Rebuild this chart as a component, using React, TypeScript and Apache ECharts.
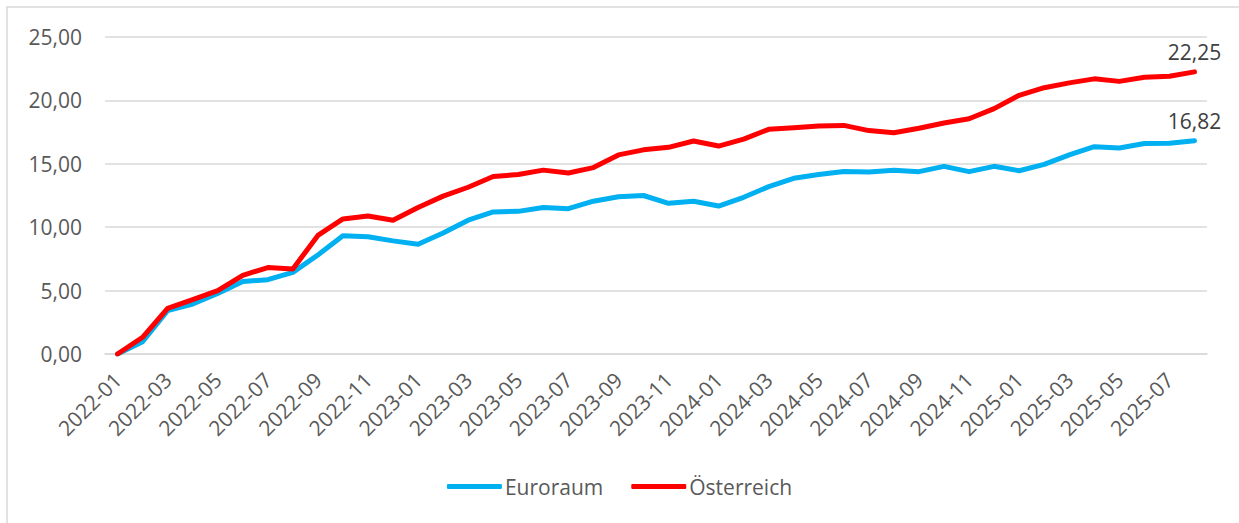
import React, { useEffect, useRef } from "react";
import * as echarts from "echarts";

const categories: string[] = [];
for (let y = 2022; y <= 2025; y++) {
  for (let m = 1; m <= 12; m++) {
    if (y === 2025 && m > 8) break;
    categories.push(`${y}-${String(m).padStart(2, "0")}`);
  }
}

const euroraum = [
  0, 0.97, 3.42, 3.94, 4.78, 5.72, 5.86, 6.44, 7.81, 9.33, 9.25, 8.92,
  8.65, 9.55, 10.55, 11.2, 11.25, 11.55, 11.46, 12.05, 12.4, 12.5, 11.88, 12.05,
  11.67, 12.36, 13.2, 13.86, 14.15, 14.4, 14.35, 14.5, 14.38, 14.8, 14.38, 14.8,
  14.45, 14.95, 15.7, 16.35, 16.25, 16.6, 16.62, 16.82,
];

const oesterreich = [
  0, 1.32, 3.6, 4.28, 5.0, 6.2, 6.82, 6.7, 9.35, 10.65, 10.88, 10.55,
  11.55, 12.45, 13.15, 14.0, 14.15, 14.5, 14.27, 14.7, 15.7, 16.1, 16.3, 16.8,
  16.4, 16.95, 17.72, 17.85, 17.98, 18.03, 17.62, 17.45, 17.8, 18.22, 18.55, 19.35,
  20.4, 21.0, 21.38, 21.7, 21.5, 21.82, 21.9, 22.25,
];

const FONT = "'Open Sans', 'Liberation Sans', sans-serif";
const FS = 21;
const fmt = (v: number) => v.toFixed(2).replace(".", ",");

export default function App() {
  const ref = useRef<HTMLDivElement>(null);
  useEffect(() => {
    if (!ref.current) return;
    const chart = echarts.init(ref.current, null, { renderer: "svg" });
    const mkSeries = (name: string, arr: number[], color: string) => ({
      name,
      type: "line",
      data: arr,
      symbol: "circle",
      symbolSize: 0,
      showSymbol: true,
      itemStyle: { color },
      lineStyle: { color, width: 5, cap: "round", join: "round" },
      label: {
        show: true,
        position: "top",
        distance: 9,
        color: "#404040",
        fontSize: FS,
        fontFamily: FONT,
        formatter: (p: any) => (p.dataIndex === arr.length - 1 ? fmt(p.value) : ""),
      },
    });
    chart.setOption({
      animation: false,
      backgroundColor: "#ffffff",
      graphic: [
        {
          type: "rect",
          shape: { x: 7, y: 7, width: 1250, height: 540 },
          style: { fill: "none", stroke: "#d9d9d9", lineWidth: 1.5 },
          silent: true,
        },
      ],
      grid: { left: 105, right: 32, top: 37, bottom: 169 },
      legend: {
        bottom: 21,
        left: "center",
        itemWidth: 55,
        itemHeight: 5,
        itemGap: 28,
        icon: "roundRect",
        textStyle: { color: "#595959", fontSize: FS, fontFamily: FONT, padding: [0, 0, 0, -2] },
        data: ["Euroraum", "Österreich"],
      },
      xAxis: {
        type: "category",
        data: categories,
        boundaryGap: true,
        axisLine: { show: true, lineStyle: { color: "#d9d9d9", width: 1.5 } },
        axisTick: { show: false },
        axisLabel: {
          interval: 1,
          rotate: 45,
          margin: 22,
          color: "#595959",
          fontSize: FS,
          fontFamily: FONT,
        },
      },
      yAxis: {
        type: "value",
        min: 0,
        max: 25,
        interval: 5,
        axisLine: { show: false },
        axisTick: { show: false },
        splitLine: { lineStyle: { color: "#d9d9d9", width: 1.5 } },
        axisLabel: {
          margin: 23,
          color: "#595959",
          fontSize: FS,
          fontFamily: FONT,
          formatter: (v: number) => fmt(v),
        },
      },
      series: [
        mkSeries("Euroraum", euroraum, "#00B0F0"),
        mkSeries("Österreich", oesterreich, "#FF0000"),
      ],
    });
    return () => chart.dispose();
  }, []);
  return <div ref={ref} style={{ width: 1239, height: 523, position: "fixed", left: 0, top: 0 }} />;
}
